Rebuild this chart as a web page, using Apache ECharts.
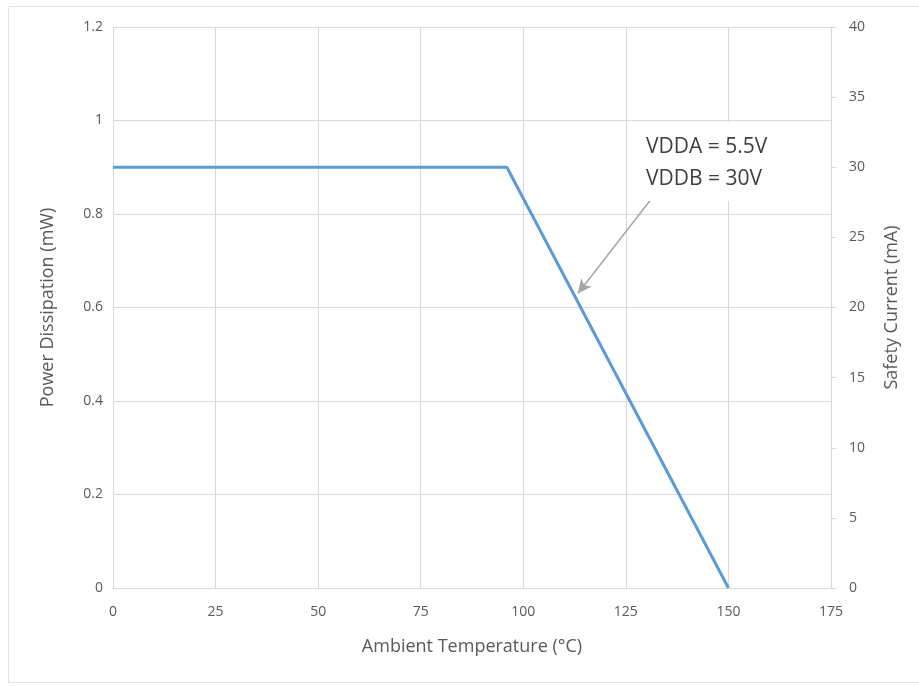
<!DOCTYPE html>
<html><head><meta charset="utf-8">
<script src="https://cdn.jsdelivr.net/npm/echarts@6/dist/echarts.min.js"></script>
<style>html,body{margin:0;padding:0;background:#fff}#c{width:919px;height:686px}</style>
</head><body><div id="c"></div>
<script>
const temps = [0, 96, 150];
const power = [0.9, 0.9, 0];
const xTicks = [0, 25, 50, 75, 100, 125, 150, 175];
const leftTicks = [0, 0.2, 0.4, 0.6, 0.8, 1, 1.2];
const rightTicks = [0, 5, 10, 15, 20, 25, 30, 35, 40];
const annotationLines = ['VDDA = 5.5V', 'VDDB = 30V'];
const arrowFrom = [131, 0.83];
const arrowTo = [113.3, 0.63];

const txt = '#595959';
const font = 'Open Sans';
const chart = echarts.init(document.getElementById('c'));
chart.setOption({
  animation: false,
  textStyle: {fontFamily: font},
  grid: {left: 113, right: 88, top: 27, bottom: 98, containLabel: false},
  xAxis: {
    type: 'value', min: 0, max: 175, interval: 25,
    name: 'Ambient Temperature (\u00B0C)', nameLocation: 'middle', nameGap: 50,
    nameTextStyle: {color: txt, fontSize: 18, fontFamily: font},
    axisLine: {show: true, lineStyle: {color: '#d9d9d9'}},
    axisTick: {show: false},
    axisLabel: {color: txt, fontSize: 14, margin: 17},
    splitLine: {show: true, lineStyle: {color: '#d9d9d9'}}
  },
  yAxis: [{
    type: 'value', min: 0, max: 1.2, interval: 0.2,
    name: 'Power Dissipation (mW)', nameLocation: 'middle', nameGap: 56,
    nameTextStyle: {color: txt, fontSize: 18, fontFamily: font},
    axisLine: {show: false}, axisTick: {show: false},
    axisLabel: {color: txt, fontSize: 14, margin: 10, formatter: v => String(+v.toFixed(1))},
    splitLine: {show: true, lineStyle: {color: '#d9d9d9'}}
  }, {
    type: 'value', min: 0, max: 40, interval: 5, position: 'right',
    name: 'Safety Current (mA)', nameLocation: 'middle', nameGap: 52, nameRotate: 90,
    nameTextStyle: {color: txt, fontSize: 18, fontFamily: font},
    axisLine: {show: true, lineStyle: {color: '#d9d9d9'}},
    axisTick: {show: true, length: 5, lineStyle: {color: '#d9d9d9'}},
    axisLabel: {color: txt, fontSize: 14, margin: 18},
    splitLine: {show: false}
  }],
  series: [{
    type: 'line', yAxisIndex: 0,
    data: temps.map((t, i) => [t, power[i]]),
    symbol: 'none',
    lineStyle: {color: '#5b9bd5', width: 3},
    markLine: {
      silent: true, symbol: ['none', 'arrow'], symbolSize: [10, 14],
      lineStyle: {color: '#a6a6a6', width: 1.5, type: 'solid'},
      label: {show: false},
      data: [[{coord: arrowFrom}, {coord: arrowTo}]]
    }
  }],
  graphic: [
    {type: 'rect', left: 6, top: 4, shape: {width: 911, height: 676},
     style: {fill: 'none', stroke: '#e3e3e3', lineWidth: 1}, silent: true},
    {type: 'rect', left: 628, top: 122, z: 10, shape: {width: 158, height: 79},
     style: {fill: '#ffffff'}, silent: true},
    {type: 'text', left: 646, top: 131, z: 11,
     style: {text: annotationLines.join('\n'), fill: '#404040', font: '21px "Open Sans"', lineHeight: 32}}
  ]
});
</script></body></html>
